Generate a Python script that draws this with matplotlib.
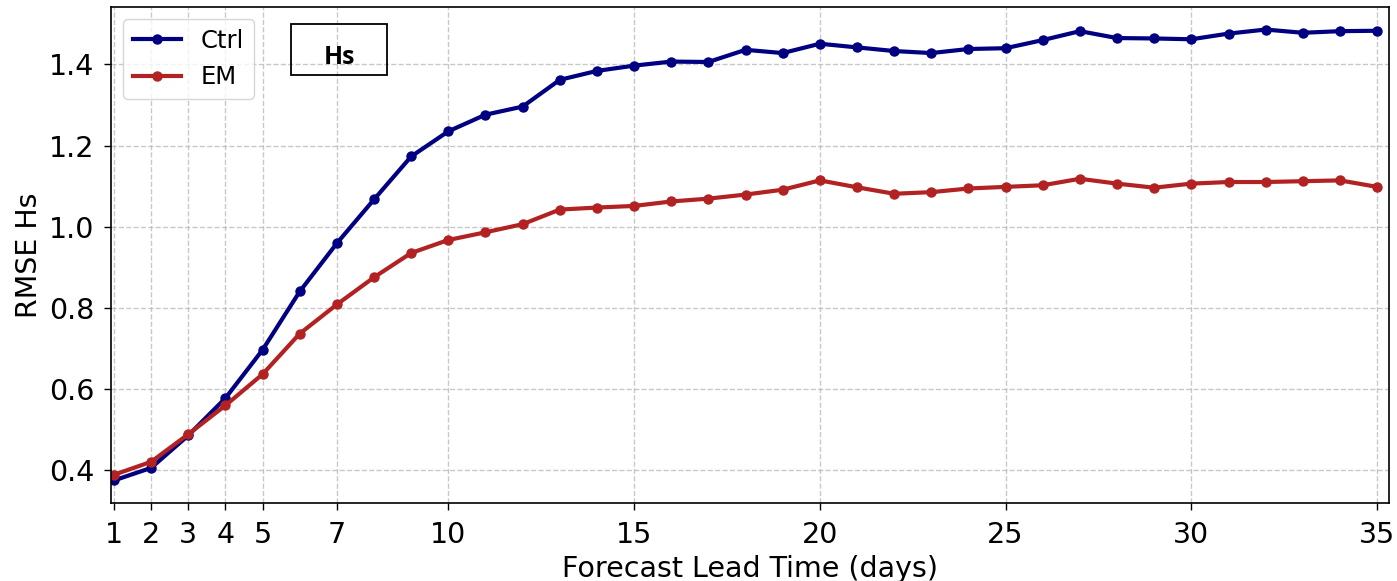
import matplotlib
matplotlib.use("Agg")
import matplotlib.pyplot as plt
from matplotlib.patches import Rectangle

days = list(range(1, 36))
ctrl = [0.374, 0.405, 0.485, 0.577, 0.696, 0.840, 0.959, 1.067, 1.173, 1.235,
        1.276, 1.296, 1.362, 1.384, 1.397, 1.407, 1.406, 1.436, 1.428, 1.451,
        1.442, 1.433, 1.428, 1.438, 1.440, 1.460, 1.482, 1.465, 1.464, 1.462,
        1.476, 1.486, 1.478, 1.482, 1.483]
em = [0.388, 0.420, 0.488, 0.559, 0.636, 0.736, 0.808, 0.875, 0.935, 0.967,
      0.986, 1.006, 1.042, 1.047, 1.051, 1.062, 1.069, 1.079, 1.091, 1.114,
      1.097, 1.081, 1.085, 1.094, 1.098, 1.102, 1.118, 1.106, 1.096, 1.106,
      1.110, 1.110, 1.112, 1.114, 1.098]
xticks = [1, 2, 3, 4, 5, 7, 10, 15, 20, 25, 30, 35]
yticks = [0.4, 0.6, 0.8, 1.0, 1.2, 1.4]

W, H = 1397, 581
fig = plt.figure(figsize=(W / 100, H / 100), dpi=100)
ax = fig.add_axes([111 / W, 1 - 503 / H, 1278 / W, 496 / H])

ax.plot(days, ctrl, color="#000080", lw=3.0, marker="o", ms=6.5, label="Ctrl")
ax.plot(days, em, color="#B22222", lw=3.0, marker="o", ms=6.5, label="EM")

ax.set_xlim(0.92, 35.32)
ax.set_xticks(xticks)
ax.set_yticks(yticks)
ax.set_yticklabels([f"{v:.1f}" for v in yticks])
ax.tick_params(labelsize=20.5, length=5, width=1)
ax.tick_params(axis="x", pad=8)
ax.tick_params(axis="y", pad=7)
ax.grid(True, linestyle="--", color="#bbbbbb", lw=1, alpha=0.8)
for s in ax.spines.values():
    s.set_linewidth(1.2)

ax.set_xlabel("Forecast Lead Time (days)", fontsize=20.5, labelpad=4)
ax.set_ylabel("RMSE Hs", fontsize=20.5, labelpad=4)

ax.legend(loc="upper left", fontsize=17.5, framealpha=0.8, edgecolor="#cccccc")

ax.add_patch(Rectangle((0.1406, 0.8635), 0.0756, 0.1022, transform=ax.transAxes,
                       fill=False, edgecolor="black", lw=1.3, zorder=5))
ax.text(0.179, 0.898, "Hs", transform=ax.transAxes, ha="center", va="center",
        fontsize=18, fontweight="bold", family="Open Sans", zorder=6)

fig.savefig("out.png", dpi=100)
